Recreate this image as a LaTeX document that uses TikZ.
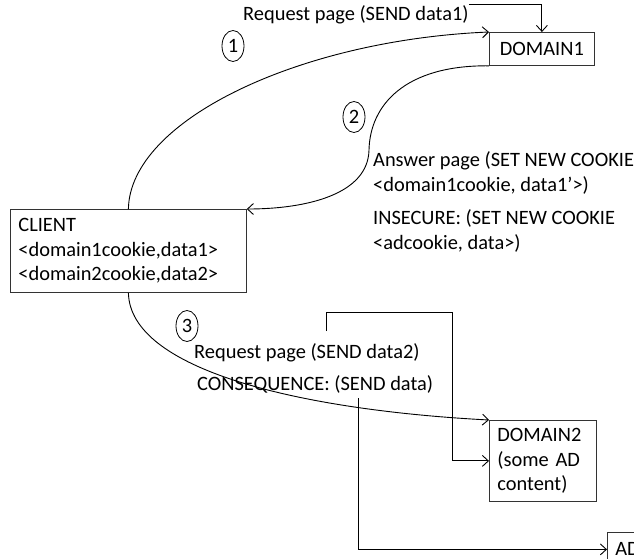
\documentclass[tikz,border=0pt]{standalone}
\usepackage{fontspec}
\setmainfont{Carlito}
\usetikzlibrary{arrows.meta,shapes.geometric}
\tikzset{
  box/.style={draw=black!80,line width=0.8pt,inner sep=0pt,inner xsep=8pt,anchor=north west,align=left},
  lbl/.style={inner sep=0pt,anchor=base west},
  num/.style={draw,ellipse,line width=0.8pt,inner sep=0pt,minimum width=22pt,minimum height=31pt},
  conn/.style={line width=0.9pt,-{Straight Barb[length=6pt,width=11pt]}}
}

\begin{document}
\begin{tikzpicture}[x=1pt,y=-1pt,font=\fontsize{20.4}{24.3}\selectfont]
\useasboundingbox (0,0) rectangle (634,558);
\clip (0,0) rectangle (634,558);
% boxes
\node[box,minimum width=105pt,minimum height=33pt,text width=89pt,align=center] (dom1) at (489,32) {DOMAIN1};
\node[box,minimum width=236pt,minimum height=83pt,text width=220pt] (client) at (10,209) {CLIENT\\<domain1cookie,data1>\\<domain2cookie,data2>};
\node[box,minimum width=107pt,minimum height=81pt,text width=91pt] (dom2) at (489,420) {DOMAIN2\\(some AD\\content)};
\node[box,minimum width=60pt,minimum height=34pt,text width=44pt,inner xsep=6pt] (ad) at (607,532) {AD};
% step numbers
\node[num] (n1) at (233,46) {1};
\node[num] (n2) at (354,117) {2};
\node[num] (n3) at (187,326) {3};
% labels
\node[lbl] (req1) at (243,20) {Request page (SEND data1)};
\node[lbl] (ans1) at (373,166) {Answer page (SET NEW COOKIE};
\node[lbl] (ans2) at (373,191) {<domain1cookie, data1'>)};
\node[lbl] (ins1) at (373,224) {INSECURE: (SET NEW COOKIE};
\node[lbl] (ins2) at (373,249) {<adcookie, data>)};
\node[lbl] (req2) at (194,358) {Request page (SEND data2)};
\node[lbl] (cons) at (197,390) {CONSEQUENCE: (SEND data)};
\coordinate (r2) at (326,331);
\coordinate (c2) at (358,398);
% connectors
\draw[conn] (client.north) .. controls (130,120) and (300,40) .. (dom1.north west);
\draw[conn] (dom1.south west) .. controls (405,65) and (370,105) .. (369,150) .. controls (368,195) and (305,209) .. (client.north east);
\draw[conn] (client.south) .. controls (130,370) and (300,410) .. (dom2.north west);
\draw[conn] (req1.north east) -| (dom1.north);
\draw[conn] (r2) |- (452,312) |- (dom2.west);
\draw[conn] (c2) |- (ad.west);
\end{tikzpicture}
\end{document}
